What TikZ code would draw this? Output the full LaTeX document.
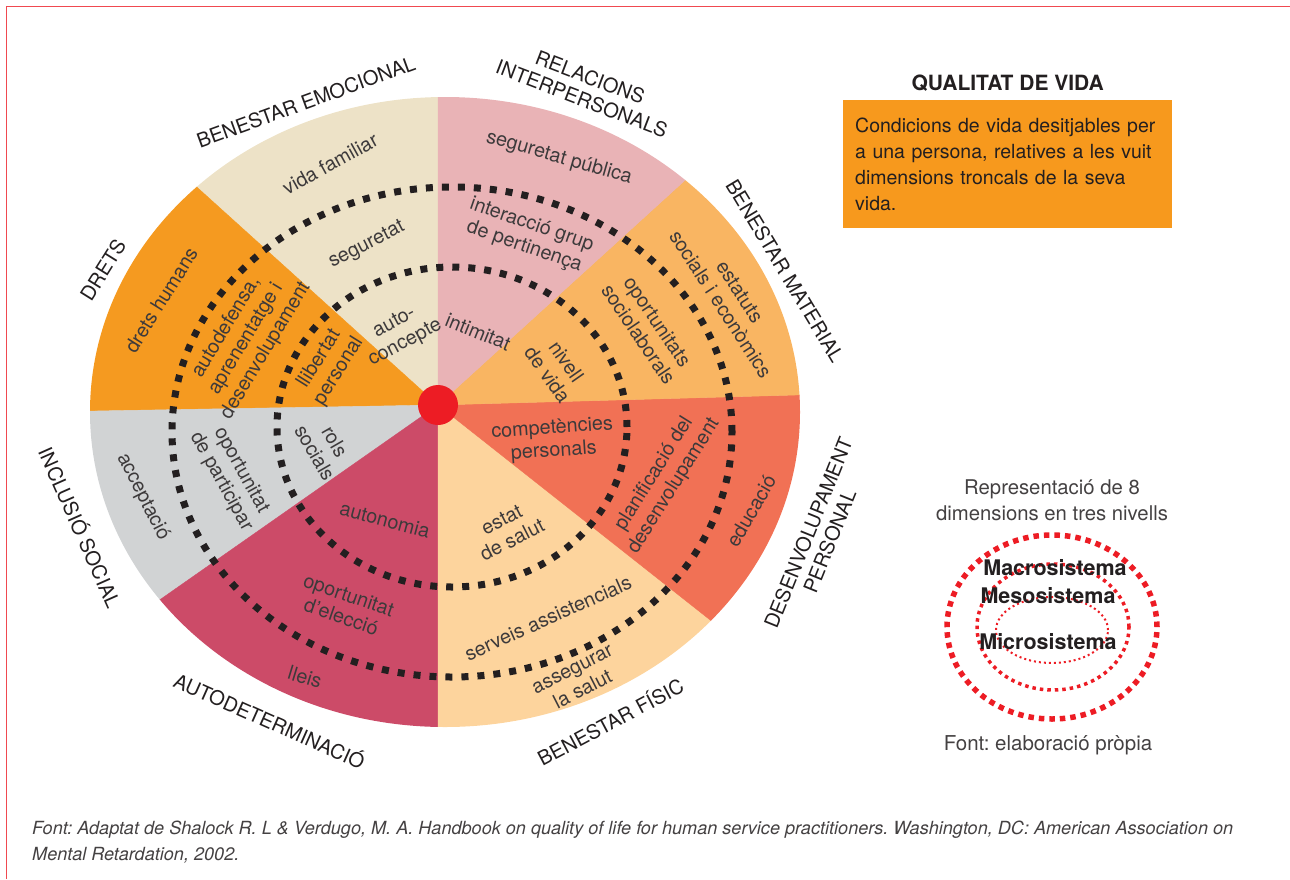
\documentclass[tikz,border=0pt]{standalone}
\usepackage{fontspec}
\setmainfont{TeX Gyre Heros}
\frenchspacing
\usetikzlibrary{positioning, calc}
\definecolor{emocional}{HTML}{EDE2C7}
\definecolor{drets}{HTML}{F59A20}
\definecolor{inclusio}{HTML}{D1D3D4}
\definecolor{autodet}{HTML}{CC4B68}
\definecolor{fisic}{HTML}{FDD49D}
\definecolor{desenv}{HTML}{F17155}
\definecolor{material}{HTML}{F9B562}
\definecolor{relacions}{HTML}{E9B3B6}
\definecolor{punt}{HTML}{ED1C24}
\definecolor{marc}{HTML}{F04950}
\definecolor{caixa}{HTML}{F7991D}
\definecolor{tinta}{HTML}{231F20}
\tikzset{%
  dimensio/.style={font=\fontsize{20}{23}\selectfont, text=tinta, inner sep=0pt, align=center},
  ambit/.style={font=\fontsize{19.8}{23}\selectfont, text=tinta!88, inner sep=0pt, align=center},
  anella/.style={draw=tinta, line width=7pt, dash pattern=on 7pt off 9pt},
  sector/.style={fill=#1, draw=#1, line width=0.4pt},
  llegenda/.style={inner sep=0pt, text=tinta, font=\bfseries\fontsize{21.5}{24}\selectfont}
}

\begin{document}
\begin{tikzpicture}[x=1pt, y=1pt]
\useasboundingbox (0,0) rectangle (1290,-879);
\draw[marc, line width=1.6pt] (6.5,-879) -- (6.5,-6.5) -- (1290,-6.5);

% the wheel
\coordinate (o) at (438,-405);
\begin{scope}
\clip (445,-412) ellipse [x radius=355pt, y radius=315pt];
\filldraw[sector=emocional] (o) -- ($(o)+(90:700)$) -- ($(o)+(137.9:700)$) -- cycle;
\filldraw[sector=drets] (o) -- ($(o)+(137.9:700)$) -- ($(o)+(181:700)$) -- cycle;
\filldraw[sector=inclusio] (o) -- ($(o)+(181:700)$) -- ($(o)+(215:700)$) -- cycle;
\filldraw[sector=autodet] (o) -- ($(o)+(215:700)$) -- ($(o)+(270:700)$) -- cycle;
\filldraw[sector=fisic] (o) -- ($(o)+(270:700)$) -- ($(o)+(321.7:700)$) -- cycle;
\filldraw[sector=desenv] (o) -- ($(o)+(321.7:700)$) -- ($(o)+(361.6:700)$) -- cycle;
\filldraw[sector=material] (o) -- ($(o)+(1.6:700)$) -- ($(o)+(42.3:700)$) -- cycle;
\filldraw[sector=relacions] (o) -- ($(o)+(42.3:700)$) -- ($(o)+(90:700)$) -- cycle;
\end{scope}
\draw[anella] (452,-432) ellipse [x radius=280pt, y radius=245pt];
\draw[anella] (452,-427) ellipse [x radius=175pt, y radius=160pt];
\fill[punt] (o) circle [radius=20pt];

% dimensions
\node[dimensio, rotate=20] (d0) at (306,-102) {BENESTAR EMOCIONAL};
\node[dimensio, rotate=-21] (d1) at (586,-88) {RELACIONS\\INTERPERSONALS};
\node[dimensio, rotate=-59] (d2) at (785,-271) {BENESTAR MATERIAL};
\node[dimensio, rotate=68] (d3) at (819,-537) {DESENVOLUPAMENT\\PERSONAL};
\node[dimensio, rotate=28] (d4) at (610,-721) {BENESTAR FÍSIC};
\node[dimensio, rotate=-24] (d5) at (270,-720) {AUTODETERMINACIÓ};
\node[dimensio, rotate=-66] (d6) at (81,-527) {INCLUSIÓ SOCIAL};
\node[dimensio, rotate=58] (d7) at (103,-270) {DRETS};

\node[ambit, rotate=29] (a0) at (330,-164) {vida familiar};
\node[ambit, rotate=27] (a1) at (367,-245) {seguretat};
\node[ambit, rotate=28] (a2) at (400,-333) {auto-\\concepte};
\node[ambit, rotate=-16] (b0) at (559,-158) {seguretat pública};
\node[ambit, rotate=-19] (b1) at (528,-236) {interacció grup\\de pertinença};
\node[ambit, rotate=-22] (b2) at (478,-332) {intimitat};
\node[ambit, rotate=-55] (c0) at (557,-368) {nivell\\de vida};
\node[ambit, rotate=-56] (c1) at (648,-328) {oportunitats\\sociolaborals};
\node[ambit, rotate=-57] (c2) at (730,-298) {estatuts\\socials i econòmics};
\node[ambit, rotate=4] (e0) at (553,-440) {competències\\personals};
\node[ambit, rotate=58] (e1) at (664,-480) {planificació del\\desenvolupament};
\node[ambit, rotate=60] (e2) at (751,-511) {educació};
\node[ambit, rotate=27] (f0) at (507,-530) {estat\\de salut};
\node[ambit, rotate=24] (f1) at (548,-618) {serveis assistencials};
\node[ambit, rotate=27] (f2) at (578,-680) {assegurar\\la salut};
\node[ambit, rotate=-15] (g0) at (385,-520) {autonomia};
\node[ambit, rotate=-19] (g1) at (345,-606) {oportunitat\\d’elecció};
\node[ambit, rotate=-17] (g2) at (305,-677) {lleis};
\node[ambit, rotate=-63] (h0) at (143,-497) {acceptació};
\node[ambit, rotate=-61] (h1) at (231,-476) {oportunitat\\de participar};
\node[ambit, rotate=-60] (h2) at (325,-447) {rols\\socials};
\node[ambit, rotate=58] (i0) at (161,-300) {drets humans};
\node[ambit, rotate=59] (i1) at (246,-339) {autodefensa,\\aprenentatge i\\desenvolupament};
\node[ambit, rotate=58] (i2) at (329,-365) {llibertat\\personal};

% right panel
\node[fill=caixa, text=tinta, font=\fontsize{19.5}{26}\selectfont, align=left, text width=305pt,
  inner xsep=12pt, inner ysep=0pt, minimum height=128pt, anchor=north west] (caixa) at (843,-100)
  {Condicions de vida desitjables per\\a una persona, relatives a les vuit\\dimensions troncals de la seva\\vida.};
\node[above=8pt of caixa, inner sep=0pt, text=tinta, font=\bfseries\fontsize{21}{24}\selectfont] (titol) {QUALITAT DE VIDA};

\node[font=\fontsize{20.3}{26}\selectfont, text=tinta!85, align=center, inner sep=0pt] (repr) at (1052,-500)
  {Representació de 8\\dimensions en tres nivells};
\draw[punt, line width=5.5pt, dash pattern=on 5.5pt off 5pt] (1052,-627) ellipse [x radius=105pt, y radius=92pt];
\draw[punt, line width=3.5pt, dash pattern=on 3.5pt off 4pt] (1053,-627) ellipse [x radius=76pt, y radius=63pt];
\draw[punt, line width=2pt, dash pattern=on 2pt off 3pt] (1052,-630) ellipse [x radius=56pt, y radius=33pt];
\node[llegenda] (macro) at (1055,-568) {Macrosistema};
\node[llegenda] (meso) at (1048,-596) {Mesosistema};
\node[llegenda] (micro) at (1048,-642) {Microsistema};
\node[inner sep=0pt, text=tinta!85, font=\fontsize{20.5}{24}\selectfont] (propia) at (1048,-745) {Font: elaboració pròpia};

% source
\node[anchor=north west, inner sep=0pt, align=left, text=tinta!85, font=\itshape\fontsize{18.1}{25.5}\selectfont] (peu) at (32,-821)
  {Font: Adaptat de Shalock R. L \& Verdugo, M. A. Handbook on quality of life for human service practitioners. Washington, DC: American Association on\\Mental Retardation, 2002.};
\end{tikzpicture}
\end{document}
